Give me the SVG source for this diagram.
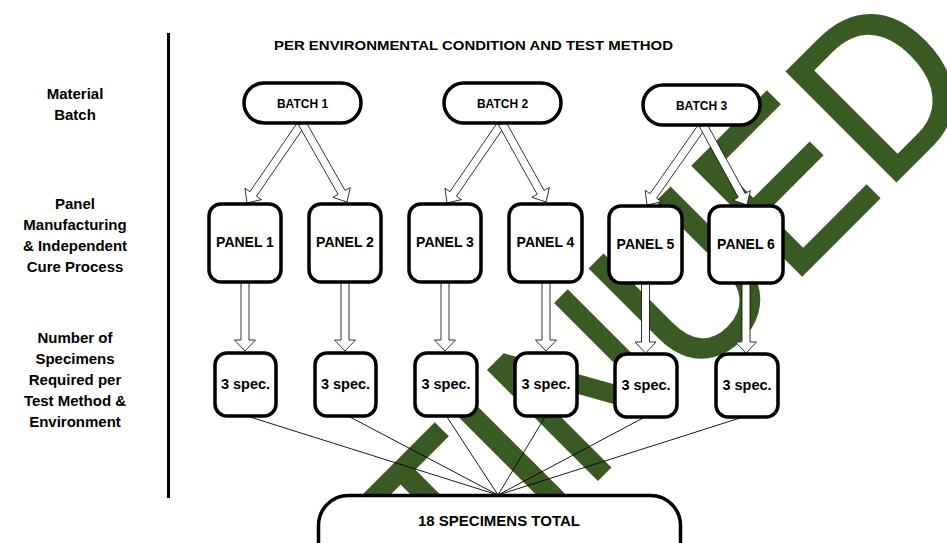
<svg xmlns="http://www.w3.org/2000/svg" width="947" height="543" viewBox="0 0 947 543">
<style>
text{font-family:"Liberation Sans",Arial,sans-serif;font-weight:bold;fill:#000}
.lbl{font-size:15px;text-anchor:middle}
.bt{font-size:12px;text-anchor:middle}
.pn{font-size:14px;text-anchor:middle}
.sp{font-size:14.5px;text-anchor:middle}
.node{fill:#fff;stroke:#000;stroke-width:3.5}
.arr{fill:#fff;stroke:#000;stroke-width:0.8}
.ln{stroke:#000;stroke-width:0.9;fill:none}
.wm{font-family:"Liberation Sans",Arial,sans-serif;font-weight:normal;font-size:200px;fill:#3a5a24;stroke:#3a5a24;stroke-width:2.5}
</style>
<rect width="947" height="543" fill="#fff"/>
<g id="watermark">
<text class="wm" transform="translate(987,90) rotate(-45) scale(1,1.12)" x="0" y="0" text-anchor="end">DISCONTINUED</text>
</g>
<line x1="168.5" y1="33" x2="168.5" y2="498" stroke="#000" stroke-width="3"/>
<text x="274" y="49.5" font-size="13.5" textLength="399" lengthAdjust="spacingAndGlyphs">PER ENVIRONMENTAL CONDITION AND TEST METHOD</text>
<g id="row-labels">
<text class="lbl" x="75" y="98.5">Material</text>
<text class="lbl" x="75" y="119.5">Batch</text>
<text class="lbl" x="75" y="208.5">Panel</text>
<text class="lbl" x="75" y="229.5">Manufacturing</text>
<text class="lbl" x="75" y="251">&amp; Independent</text>
<text class="lbl" x="75" y="272">Cure Process</text>
<text class="lbl" x="75" y="342.5">Number of</text>
<text class="lbl" x="75" y="363.5">Specimens</text>
<text class="lbl" x="75" y="385">Required per</text>
<text class="lbl" x="75" y="406">Test Method &amp;</text>
<text class="lbl" x="75" y="427">Environment</text>
</g>
<g id="connectors">
<polygon class="arr" points="298.70,120.73 249.93,191.66 244.99,188.26 247,203 261.47,199.60 256.53,196.20 305.30,125.27"/>
<polygon class="arr" points="298.52,124.98 338.08,194.42 332.87,197.39 347,202 350.25,187.49 345.04,190.46 305.48,121.02"/>
<polygon class="arr" points="498.70,120.73 449.93,191.66 444.99,188.26 447,203 461.47,199.60 456.53,196.20 505.30,125.27"/>
<polygon class="arr" points="498.51,124.95 537.16,194.34 531.91,197.26 546,202 549.39,187.52 544.14,190.44 505.49,121.05"/>
<polygon class="arr" points="699.72,122.71 650.03,193.70 645.12,190.25 647,205 661.50,201.73 656.59,198.28 706.28,127.29"/>
<polygon class="arr" points="699.50,126.93 738.20,197.29 732.94,200.18 747,205 750.46,190.54 745.20,193.43 706.50,123.07"/>
<polygon class="arr" points="241,280 241,340 234.5,340 245,351 255.5,340 249,340 249,280"/>
<polygon class="arr" points="341,280 341,340 334.5,340 345,351 355.5,340 349,340 349,280"/>
<polygon class="arr" points="441,280 441,340 434.5,340 445,351 455.5,340 449,340 449,280"/>
<polygon class="arr" points="542,280 542,340 535.5,340 546,351 556.5,340 550,340 550,280"/>
<polygon class="arr" points="641.5,282 641.5,342 635,342 645.5,353 656,342 649.5,342 649.5,282"/>
<polygon class="arr" points="742,282 742,342 735.5,342 746,353 756.5,342 750,342 750,282"/>
<line class="ln" x1="250" y1="417" x2="498" y2="495"/>
<line class="ln" x1="350" y1="417" x2="498" y2="495"/>
<line class="ln" x1="447" y1="417" x2="498" y2="495"/>
<line class="ln" x1="545" y1="417" x2="498" y2="495"/>
<line class="ln" x1="643" y1="418" x2="498" y2="495"/>
<line class="ln" x1="740" y1="418" x2="498" y2="495"/>
</g>
<g id="batch1"><rect class="node" x="244" y="83" width="117" height="40" rx="20"/><text class="bt" x="302.5" y="107.5">BATCH 1</text></g>
<g id="batch2"><rect class="node" x="444" y="83" width="117" height="40" rx="20"/><text class="bt" x="502.5" y="107.5">BATCH 2</text></g>
<g id="batch3"><rect class="node" x="643" y="85" width="117" height="40" rx="20"/><text class="bt" x="701.5" y="109.5">BATCH 3</text></g>
<g id="panel1"><rect class="node" x="209" y="204" width="72" height="78" rx="12"/><text class="pn" x="245" y="247">PANEL 1</text></g>
<g id="panel2"><rect class="node" x="309" y="204" width="72" height="78" rx="12"/><text class="pn" x="345" y="247">PANEL 2</text></g>
<g id="panel3"><rect class="node" x="409" y="204" width="72" height="78" rx="12"/><text class="pn" x="445" y="247">PANEL 3</text></g>
<g id="panel4"><rect class="node" x="509" y="204" width="73" height="78" rx="12"/><text class="pn" x="545.5" y="247">PANEL 4</text></g>
<g id="panel5"><rect class="node" x="609" y="206" width="73" height="77" rx="12"/><text class="pn" x="645.5" y="249">PANEL 5</text></g>
<g id="panel6"><rect class="node" x="709" y="206" width="74" height="77" rx="12"/><text class="pn" x="746" y="249">PANEL 6</text></g>
<g id="spec1"><rect class="node" x="215" y="353" width="61" height="63" rx="12"/><text class="sp" x="245.5" y="389">3 spec.</text></g>
<g id="spec2"><rect class="node" x="315" y="353" width="61" height="63" rx="12"/><text class="sp" x="345.5" y="389">3 spec.</text></g>
<g id="spec3"><rect class="node" x="415" y="353" width="62" height="63" rx="12"/><text class="sp" x="446" y="389">3 spec.</text></g>
<g id="spec4"><rect class="node" x="515" y="353" width="62" height="63" rx="12"/><text class="sp" x="546" y="389">3 spec.</text></g>
<g id="spec5"><rect class="node" x="615" y="354" width="62" height="63" rx="12"/><text class="sp" x="646" y="390">3 spec.</text></g>
<g id="spec6"><rect class="node" x="716" y="354" width="62" height="63" rx="12"/><text class="sp" x="747" y="390">3 spec.</text></g>
<g id="total"><rect class="node" x="318.5" y="495.5" width="362" height="80" rx="30" stroke-width="3"/><text x="499" y="526" font-size="15" text-anchor="middle">18 SPECIMENS TOTAL</text></g>
</svg>
